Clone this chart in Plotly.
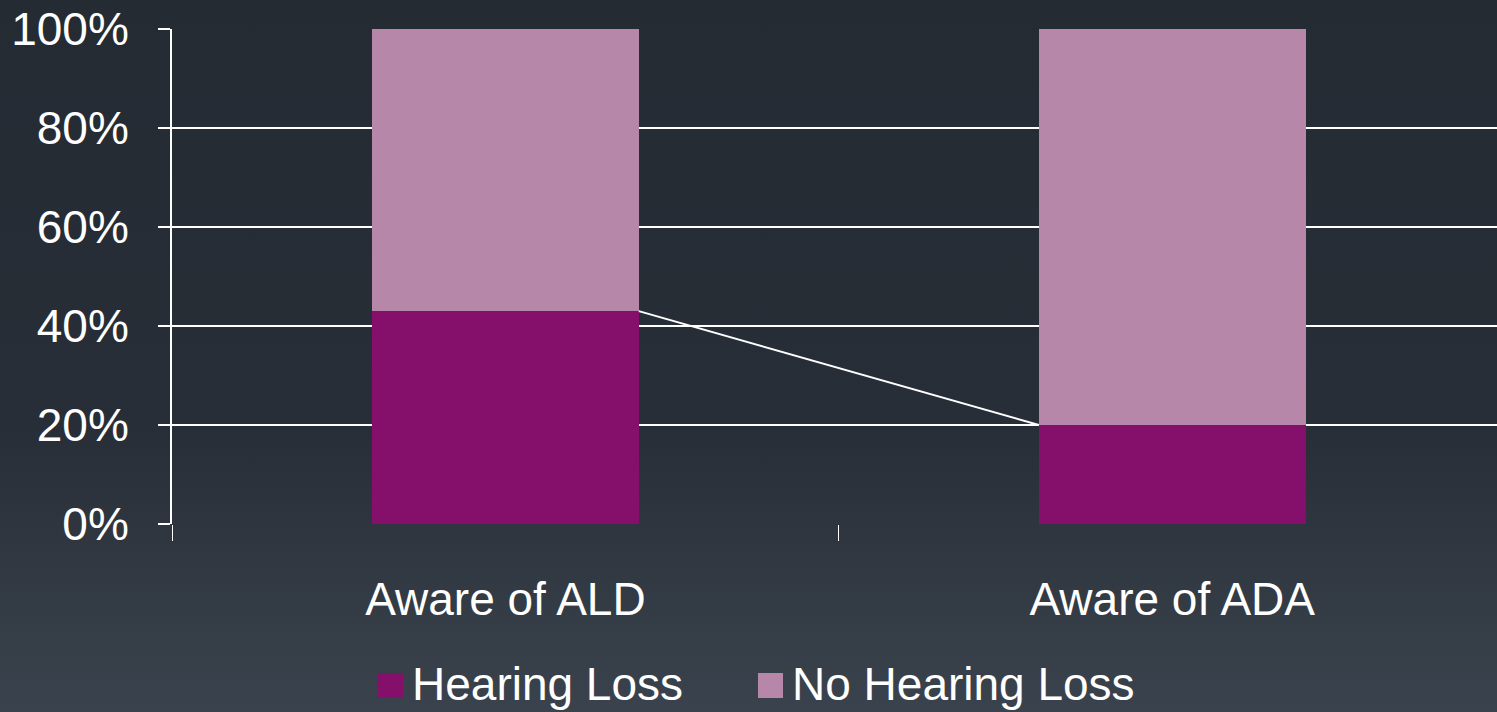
import plotly.graph_objects as go

categories = ["Aware of ALD", "Aware of ADA"]
series_names = ["Hearing Loss", "No Hearing Loss"]
hearing_loss = [43, 20]
no_hearing_loss = [57, 80]
y_ticks = [0, 20, 40, 60, 80, 100]
y_tick_labels = ["0%", "20%", "40%", "60%", "80%", "100%"]

BAR_W = 0.4
FONT = "Liberation Sans, Arial, sans-serif"
COLORS = ["#84106b", "#b687a8"]

bg_svg = (
    "data:image/svg+xml;utf8,"
    "<svg xmlns='http://www.w3.org/2000/svg' width='10' height='100' preserveAspectRatio='none'>"
    "<defs><linearGradient id='g' x1='0' y1='0' x2='0' y2='1'>"
    "<stop offset='0' stop-color='%23252b33'/>"
    "<stop offset='0.6' stop-color='%23282e37'/>"
    "<stop offset='1' stop-color='%233a434d'/>"
    "</linearGradient></defs><rect width='10' height='100' fill='url(%23g)'/></svg>"
)

fig = go.Figure()
fig.add_bar(x=[0, 1], y=hearing_loss, name=series_names[0], width=BAR_W,
            marker=dict(color=COLORS[0], line=dict(width=0)), showlegend=False)
fig.add_bar(x=[0, 1], y=no_hearing_loss, name=series_names[1], width=BAR_W,
            marker=dict(color=COLORS[1], line=dict(width=0)), showlegend=False)

# series line joining the tops of the Hearing Loss segments
fig.add_scatter(x=[0 + BAR_W / 2, 1 - BAR_W / 2], y=hearing_loss, mode="lines",
                line=dict(color="white", width=2), showlegend=False, hoverinfo="skip")

# category boundary ticks on an overlay axis
fig.add_scatter(x=[0], y=[0], xaxis="x2", mode="markers", marker=dict(opacity=0),
                showlegend=False, hoverinfo="skip")

fig.update_layout(
    barmode="stack",
    width=1497, height=712,
    margin=dict(l=172, r=0, t=29, b=188),
    paper_bgcolor="#2b323b",
    plot_bgcolor="rgba(0,0,0,0)",
    font=dict(family=FONT, color="white", size=46),
    showlegend=False,
    images=[dict(source=bg_svg, xref="paper", yref="paper",
                 x=-172 / 1325, y=1 + 29 / 495,
                 sizex=1497 / 1325, sizey=712 / 495, sizing="stretch", layer="below",
                 xanchor="left", yanchor="top")],
    xaxis=dict(
        range=[-0.5, 1.487],
        tickmode="array", tickvals=[0, 1], ticktext=categories,
        showgrid=False, zeroline=False, showline=False,
        ticks="", tickfont=dict(size=46),
        ticklabelstandoff=44,
    ),
    xaxis2=dict(
        overlaying="x", anchor="y", side="bottom", range=[-0.5, 1.487],
        tickmode="array", tickvals=[-0.5, 0.5, 1.5],
        showticklabels=False, ticks="outside", ticklen=16, tickwidth=1, tickcolor="white",
        showgrid=False, zeroline=False, showline=False,
    ),
    yaxis=dict(
        range=[0, 100],
        tickmode="array", tickvals=y_ticks, ticktext=y_tick_labels,
        showgrid=True, gridcolor="white", gridwidth=2,
        zeroline=False,
        showline=True, linecolor="white", linewidth=2,
        ticks="outside", ticklen=12, tickcolor="white", tickwidth=2,
        tickfont=dict(size=46), ticklabelstandoff=20,
    ),
)

# legend drawn by hand so the swatches can be as large as in the reference
legend_x = [378, 758]
for name, color, lx in zip(series_names, COLORS, legend_x):
    fig.add_shape(type="rect", xref="paper", yref="paper",
                  x0=(lx - 172) / 1325, x1=(lx + 25 - 172) / 1325,
                  y0=-(673 - 524) / 495, y1=-(698 - 524) / 495,
                  fillcolor=color, line=dict(width=0))
    fig.add_annotation(text=name, xref="paper", yref="paper",
                       x=(lx + 33 - 172) / 1325, y=-(684 - 524) / 495,
                       xanchor="left", yanchor="middle", showarrow=False,
                       borderpad=0, font=dict(size=46, color="white"))

fig.write_html("out.html", config={"displayModeBar": False},
               post_script="document.body.style.margin='0';")
